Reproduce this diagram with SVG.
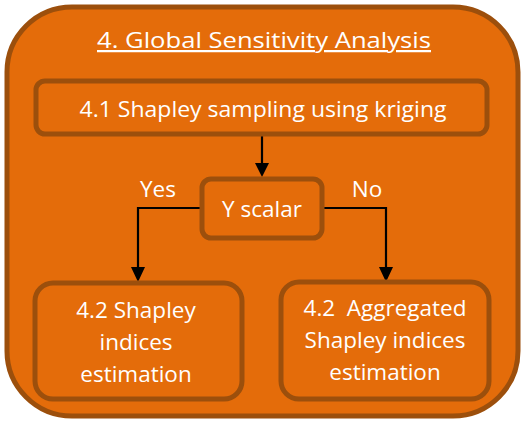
<svg xmlns="http://www.w3.org/2000/svg" width="524" height="421" viewBox="0 0 524 421">
<style>
.box{fill:#E46C0A;stroke:#9C4F0C;stroke-width:5}
.t{font-family:"Open Sans",sans-serif;fill:#fff;font-size:22.5px;text-anchor:middle}
.c{fill:none;stroke:#000;stroke-width:2.2}
</style>
<rect width="524" height="421" fill="#fff"/>
<g id="outer">
<rect class="box" x="7" y="7" width="511" height="409" rx="65"/>
<text class="t" x="264" y="48" font-size="23" text-decoration="underline" textLength="334" lengthAdjust="spacingAndGlyphs">4. Global Sensitivity Analysis</text>
</g>
<g id="connectors">
<line class="c" x1="262" y1="136" x2="262" y2="165"/>
<path d="M255,163 L269,163 L262,177 z" fill="#000"/>
<path class="c" d="M200,208 H138 V268"/>
<path d="M131,267 L145,267 L138,282 z" fill="#000"/>
<path class="c" d="M324,208 H386 V268"/>
<path d="M379,267 L393,267 L386,282 z" fill="#000"/>
<text class="t" x="158" y="197">Yes</text>
<text class="t" x="367" y="197">No</text>
</g>
<g id="n1">
<rect class="box" x="36" y="81" width="451" height="53" rx="9"/>
<text class="t" x="263" y="117" textLength="367" lengthAdjust="spacingAndGlyphs">4.1 Shapley sampling using kriging</text>
</g>
<g id="n2">
<rect class="box" x="202" y="179" width="120" height="59" rx="9"/>
<text class="t" x="262" y="217">Y scalar</text>
</g>
<g id="n3">
<rect class="box" x="35" y="283" width="207" height="116" rx="18"/>
<text class="t" x="136" y="318">4.2 Shapley</text>
<text class="t" x="136" y="350">indices</text>
<text class="t" x="136" y="382">estimation</text>
</g>
<g id="n4">
<rect class="box" x="281" y="282" width="208" height="117" rx="18"/>
<text class="t" x="385" y="316" xml:space="preserve">4.2  Aggregated</text>
<text class="t" x="385" y="348">Shapley indices</text>
<text class="t" x="385" y="380">estimation</text>
</g>
</svg>
